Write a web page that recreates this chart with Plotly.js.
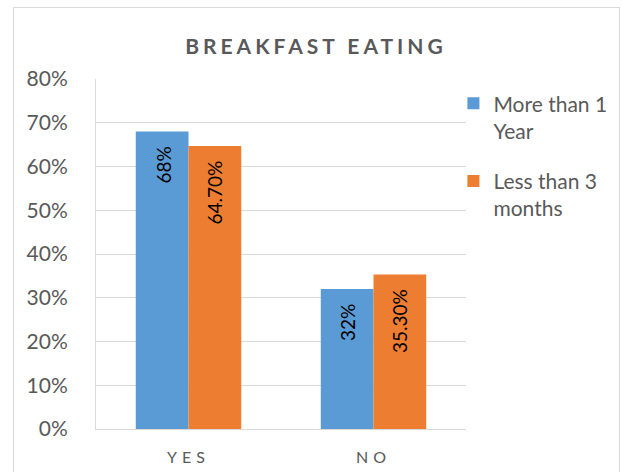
<!DOCTYPE html>
<html>
<head>
<meta charset="utf-8">
<script src="https://cdn.plot.ly/plotly-3.0.1.min.js"></script>
<style>
html,body{margin:0;padding:0;background:#fff;}
#wrap{position:relative;width:622px;height:472px;overflow:hidden;}
#chart{width:622px;height:472px;}
#frame{position:absolute;left:13px;top:7px;width:605px;height:480px;border:1px solid #D9D9D9;pointer-events:none;}
.gtitle{letter-spacing:4px;}
.xtick text{letter-spacing:5px;}
</style>
</head>
<body>
<div id="wrap"><div id="chart"></div><div id="frame"></div></div>
<script>
const categories = ["YES", "NO"];
const seriesNames = ["More than 1<br>Year", "Less than 3<br>months"];
const moreThan1Year = [0.68, 0.32];
const moreThan1YearLabels = ["68%", "32%"];
const lessThan3Months = [0.647, 0.353];
const lessThan3MonthsLabels = ["64.70%", "35.30%"];
const yTickVals = [0, 0.1, 0.2, 0.3, 0.4, 0.5, 0.6, 0.7, 0.8];
const yTickText = ["0%", "10%", "20%", "30%", "40%", "50%", "60%", "70%", "80%"];

const font = "Lato, 'Open Sans', sans-serif";
const gray = "#595959";

const seriesValues = [moreThan1Year, lessThan3Months];
const seriesLabels = [moreThan1YearLabels, lessThan3MonthsLabels];
const seriesColors = ["#5B9BD5", "#ED7D31"];

const traces = seriesValues.map((vals, i) => ({
  type: "bar",
  name: seriesNames[i],
  legendgroup: "g" + i,
  x: categories,
  y: vals,
  marker: {color: seriesColors[i]},
  hoverinfo: "none"
}));

// data labels, rotated, placed inside the end of each bar
const BAR_OFFSET = 26;
const annotations = [];
seriesValues.forEach((vals, i) => {
  vals.forEach((v, j) => {
    annotations.push({
      x: categories[j], y: v, xref: "x", yref: "y",
      text: seriesLabels[i][j], showarrow: false,
      textangle: -90, xanchor: "center", yanchor: "top",
      xshift: i === 0 ? -BAR_OFFSET : BAR_OFFSET, yshift: -13,
      font: {family: font, size: 19, color: "#000"}
    });
  });
});

const layout = {
  width: 622, height: 472,
  margin: {l: 96, r: 156, t: 79, b: 43, autoexpand: false},
  paper_bgcolor: "#fff", plot_bgcolor: "#fff",
  barmode: "group", bargap: 0.43, bargroupgap: 0,
  font: {family: font, color: gray},
  title: {
    text: "<b>BREAKFAST EATING</b>",
    font: {family: font, size: 21, color: gray},
    x: 0.508, xref: "container", xanchor: "center",
    y: 0.902, yref: "container", yanchor: "middle"
  },
  xaxis: {
    showline: true, linecolor: "#D9D9D9", linewidth: 1,
    showgrid: false, ticks: "", ticklabelstandoff: 14,
    tickfont: {family: font, size: 16, color: gray}
  },
  yaxis: {
    range: [0, 0.8], tickvals: yTickVals, ticktext: yTickText,
    showgrid: true, gridcolor: "#D9D9D9", gridwidth: 1,
    showline: true, linecolor: "#D9D9D9", linewidth: 1,
    zeroline: false, ticks: "", ticklabelstandoff: 23,
    tickfont: {family: font, size: 21, color: gray}
  },
  annotations: annotations,
  legend: {
    x: 0.966, xanchor: "left", y: 0.988, yanchor: "top",
    valign: "top",
    font: {family: font, size: 21, color: gray},
    itemwidth: 30, tracegroupgap: 20, bgcolor: "rgba(0,0,0,0)"
  },
  showlegend: true
};

Plotly.newPlot("chart", traces, layout, {displayModeBar: false, staticPlot: true});
</script>
</body>
</html>
